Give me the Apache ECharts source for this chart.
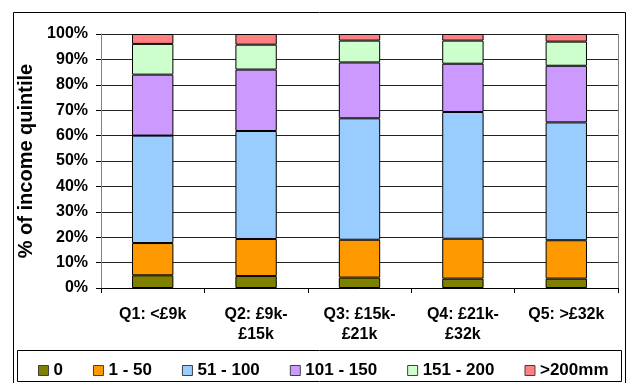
<!DOCTYPE html>
<html>
<head>
<meta charset="utf-8">
<script src="https://cdn.jsdelivr.net/npm/echarts@6/dist/echarts.min.js"></script>
<style>
  html, body { margin: 0; padding: 0; background: #fff; }
  #chart { width: 632px; height: 383px; }
</style>
</head>
<body>
<div id="chart"></div>
<script>
// Income quintiles (x axis)
const categories = ['Q1: <£9k', 'Q2: £9k-\n£15k', 'Q3: £15k-\n£21k', 'Q4: £21k-\n£32k', 'Q5: >£32k'];

// Share of each quintile (%) per rainfall band
const band0        = [5.0, 4.7, 4.1, 3.7, 3.7];
const band1to50    = [12.7, 14.6, 14.9, 15.7, 15.1];
const band51to100  = [42.3, 42.5, 47.8, 49.9, 46.4];
const band101to150 = [24.0, 24.2, 22.0, 19.0, 22.3];
const band151to200 = [12.1, 9.8, 8.6, 9.1, 9.5];
const bandOver200  = [3.9, 4.2, 2.6, 2.6, 3.0];

const seriesNames = ['0', '1 - 50', '51 - 100', '101 - 150', '151 - 200', '>200mm'];
const seriesData = [band0, band1to50, band51to100, band101to150, band151to200, bandOver200];
const colors = ['#808000', '#FF9900', '#99CCFF', '#CC99FF', '#CCFFCC', '#FF8080'];

const FONT = 'Liberation Sans, Arial, sans-serif';

const chart = echarts.init(document.getElementById('chart'), null, { renderer: 'canvas' });

chart.setOption({
  animation: false,
  color: colors,
  grid: { left: 101, right: 14, top: 34, bottom: 95 },
  graphic: [
    // chart frame
    { type: 'rect', shape: { x: 13.5, y: 12.5, width: 612, height: 390 },
      style: { fill: 'none', stroke: '#000', lineWidth: 1 }, z: -10 },
    // legend box
    { type: 'rect', shape: { x: 17.5, y: 350.5, width: 604, height: 31 },
      style: { fill: 'none', stroke: '#000', lineWidth: 1 }, z: -10 },
    // right edge of the plot area
    { type: 'line', shape: { x1: 618.5, y1: 34, x2: 618.5, y2: 288 },
      style: { stroke: '#808080', lineWidth: 1 }, z: -5 }
  ],
  legend: {
    data: seriesNames,
    left: 33,
    top: 357,
    itemWidth: 10,
    itemHeight: 10,
    itemGap: 30,
    icon: 'rect',
    textStyle: { fontFamily: FONT, fontWeight: 'bold', fontSize: 17, color: '#000' },
    itemStyle: { borderColor: '#404040', borderWidth: 1 }
  },
  xAxis: {
    type: 'category',
    data: categories,
    axisLine: { lineStyle: { color: '#000', width: 1 } },
    axisTick: { show: true, length: 5, inside: false, lineStyle: { color: '#000' } },
    axisLabel: { fontFamily: FONT, fontWeight: 'bold', fontSize: 16, color: '#000', lineHeight: 20, margin: 17, interval: 0 },
    splitLine: { show: false }
  },
  yAxis: {
    type: 'value',
    min: 0,
    max: 100,
    interval: 10,
    name: '% of income quintile',
    nameLocation: 'middle',
    nameGap: 61,
    nameTextStyle: { fontFamily: FONT, fontWeight: 'bold', fontSize: 20, color: '#000' },
    axisLine: { show: true, lineStyle: { color: '#808080', width: 1 } },
    axisTick: { show: true, length: 5, lineStyle: { color: '#000' } },
    axisLabel: { formatter: '{value}%', fontFamily: FONT, fontWeight: 'bold', fontSize: 16, color: '#000', margin: 13 },
    splitLine: { show: true, lineStyle: { color: '#222', width: 1 } }
  },
  series: seriesNames.map((name, i) => ({
    name: name,
    type: 'bar',
    stack: 'total',
    barWidth: '40%',
    data: seriesData[i],
    itemStyle: { color: colors[i], borderColor: '#000', borderWidth: 1 }
  }))
});
</script>
</body>
</html>
